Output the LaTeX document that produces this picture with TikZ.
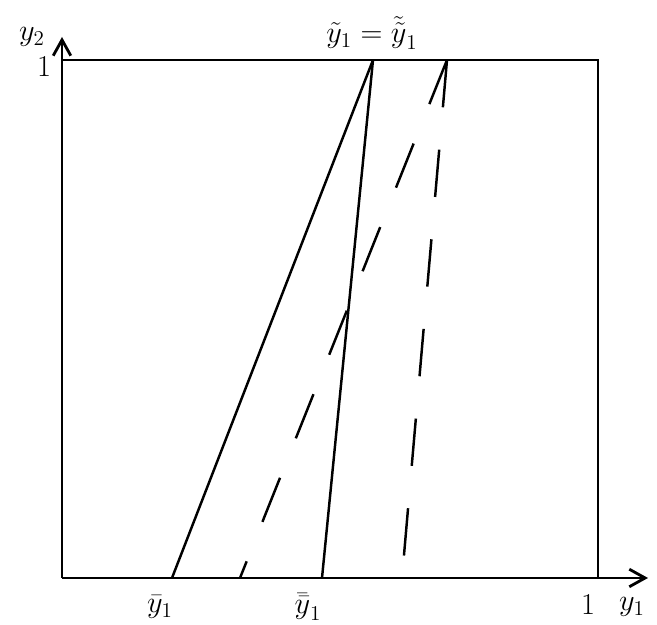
\documentclass[tikz,border=0pt]{standalone}
\usepackage{tikz}
\usetikzlibrary{arrows.meta, positioning}

\begin{document}
\begin{tikzpicture}[
        x=0.02cm, y=0.02cm,
        axis/.style={-{Straight Barb[length=9pt, width=10pt]}, line width=1.6pt},
        frame/.style={line width=1.6pt},
        solidline/.style={line width=1.4pt},
        dashline/.style={line width=1.4pt, dash pattern=on 0.95cm off 0.85cm},
        lbl/.style={font=\LARGE, inner sep=1pt}
      ]
        \useasboundingbox (0,0) rectangle (657,625);
        % corners of the unit square
        \coordinate (o) at (62,47);
        \coordinate (xone) at (598,47);
        \coordinate (yone) at (62,565);
        \coordinate (c) at (598,565);
        % ends of the lines
        \coordinate (ybar) at (172,47);
        \coordinate (ybarbar) at (322,47);
        \coordinate (da) at (240,47);
        \coordinate (db) at (402,47);
        \coordinate (ytil) at (373,565);
        \coordinate (dtop) at (447,565);
        \coordinate (xend) at (648,47);
        \coordinate (yend) at (62,588);

        \draw[axis] (o) -- (xend);
        \draw[axis] (o) -- (yend);
        \draw[frame] (yone) -- (c) -- (xone);

        \draw[solidline] (ybar) -- (ytil);
        \draw[solidline] (ybarbar) -- (ytil);
        \draw[dashline] (dtop) -- (da);
        \draw[dashline] (dtop) -- (db);

        \node[lbl] (ly2) at (32,588) {$y_2$};
        \node[lbl] (l1y) at (44,558) {$1$};
        \node[lbl] (ltop) at (372,592) {$\tilde{y}_1 = \tilde{\tilde{y}}_1$};
        \node[lbl] (lbar) at (160,18) {$\bar{y}_1$};
        \node[lbl] (lbarbar) at (308,18) {$\bar{\bar{y}}_1$};
        \node[lbl] (l1x) at (588,20) {$1$};
        \node[lbl] (ly1) at (632,18) {$y_1$};
      \end{tikzpicture}
\end{document}
